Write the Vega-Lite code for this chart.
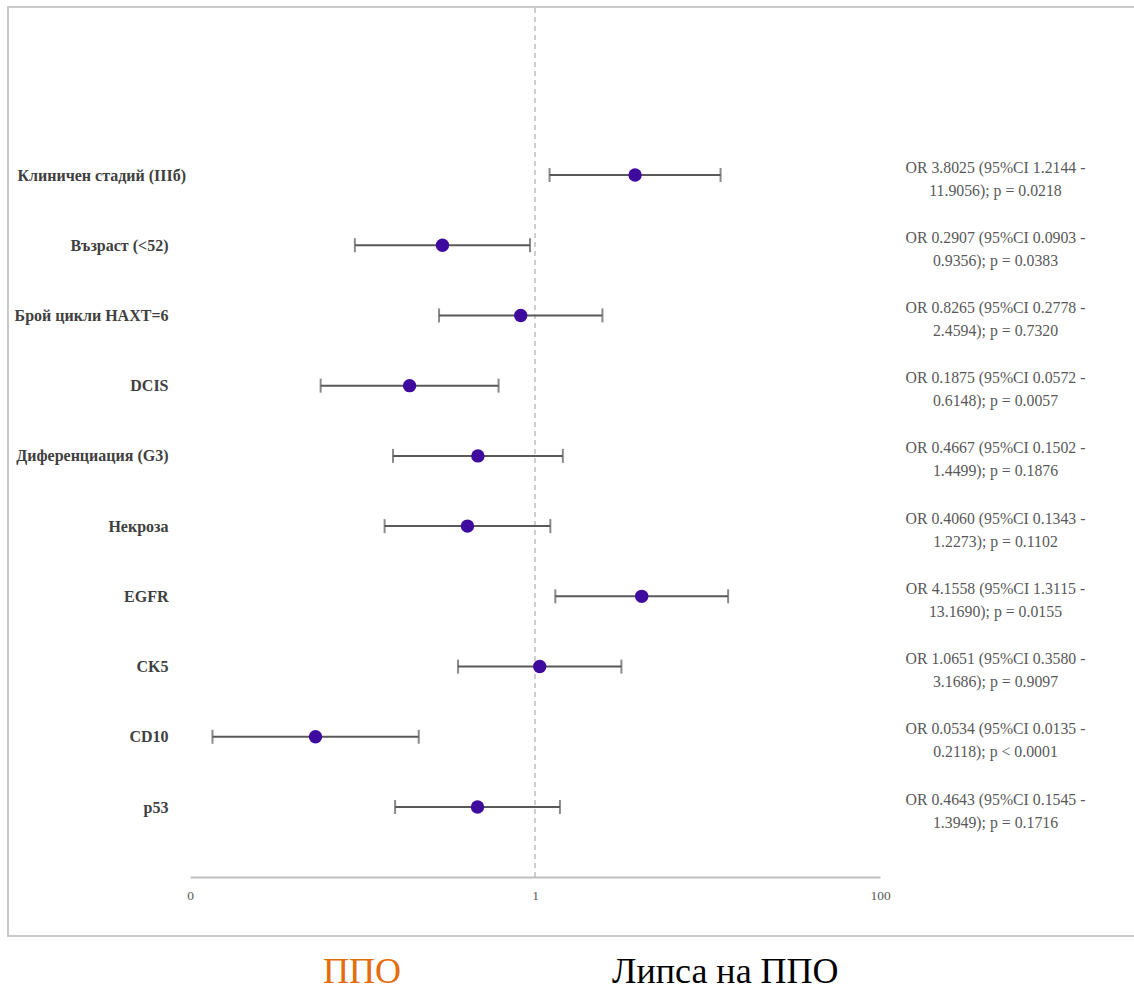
{
  "$schema": "https://vega.github.io/schema/vega-lite/v6.json",
  "width": 690,
  "height": 869,
  "autosize": {"type": "none"},
  "padding": {"left": 190, "top": 8, "right": 254, "bottom": 113},
  "background": "white",
  "config": {"view": {"stroke": null}, "font": "Liberation Serif"},
  "layer": [
    {
      "data": {"values": [{"frame": 1}]},
      "mark": {"type": "rect", "fill": null, "stroke": "#c9c9c9", "strokeWidth": 2},
      "encoding": {
        "x": {"datum": 0, "type": "quantitative", "scale": {"domain": [0, 1], "range": [-182, 950]}, "axis": null},
        "x2": {"datum": 1},
        "y": {"datum": 0, "type": "quantitative", "scale": {"domain": [0, 1], "range": [928, -1]}, "axis": null},
        "y2": {"datum": 1}
      }
    },
    {
      "data": {
        "values": [
          {"label": "Клиничен стадий (IIIб)", "or": 3.8025, "lo": 1.2144, "hi": 11.9056, "note1": "OR 3.8025 (95%CI 1.2144 -", "note2": "11.9056);  p = 0.0218"},
          {"label": "Възраст (<52)", "or": 0.2907, "lo": 0.0903, "hi": 0.9356, "note1": "OR 0.2907 (95%CI 0.0903 -", "note2": "0.9356);  p = 0.0383"},
          {"label": "Брой цикли НАХТ=6", "or": 0.8265, "lo": 0.2778, "hi": 2.4594, "note1": "OR 0.8265 (95%CI 0.2778 -", "note2": "2.4594);  p = 0.7320"},
          {"label": "DCIS", "or": 0.1875, "lo": 0.0572, "hi": 0.6148, "note1": "OR 0.1875 (95%CI 0.0572 -", "note2": "0.6148);  p = 0.0057"},
          {"label": "Диференциация (G3)", "or": 0.4667, "lo": 0.1502, "hi": 1.4499, "note1": "OR 0.4667 (95%CI 0.1502 -", "note2": "1.4499);  p = 0.1876"},
          {"label": "Некроза", "or": 0.4060, "lo": 0.1343, "hi": 1.2273, "note1": "OR 0.4060 (95%CI 0.1343 -", "note2": "1.2273);  p = 0.1102"},
          {"label": "EGFR", "or": 4.1558, "lo": 1.3115, "hi": 13.1690, "note1": "OR 4.1558 (95%CI 1.3115 -", "note2": "13.1690);  p = 0.0155"},
          {"label": "CK5", "or": 1.0651, "lo": 0.3580, "hi": 3.1686, "note1": "OR 1.0651 (95%CI 0.3580 -", "note2": "3.1686);  p = 0.9097"},
          {"label": "CD10", "or": 0.0534, "lo": 0.0135, "hi": 0.2118, "note1": "OR 0.0534 (95%CI 0.0135 -", "note2": "0.2118);  p < 0.0001"},
          {"label": "p53", "or": 0.4643, "lo": 0.1545, "hi": 1.3949, "note1": "OR 0.4643 (95%CI 0.1545 -", "note2": "1.3949);  p = 0.1716"}
        ]
      },
      "transform": [{"calculate": "datum.label + '|' + datum.note1 + '|' + datum.note2", "as": "key"}],
      "layer": [
        {
          "data": {"values": [{"ref": 1}]},
          "mark": {"type": "rule", "color": "#bfbfbf", "strokeWidth": 1.5, "strokeDash": [5, 4]},
          "encoding": {
            "x": {"datum": 1, "type": "quantitative", "scale": {"type": "log", "domain": [0.01, 100]}, "axis": null}
          }
        },
        {
          "mark": {"type": "rule", "color": "#595959", "strokeWidth": 2},
          "encoding": {
            "x": {
              "field": "lo", "type": "quantitative",
              "scale": {"type": "log", "domain": [0.01, 100]},
              "axis": {
                "orient": "bottom", "title": null, "values": [0.01, 1, 100],
                "labelExpr": "datum.value < 0.1 ? '0' : format(datum.value, 'd')",
                "ticks": false, "tickSize": 0, "grid": false,
                "domainColor": "#bfbfbf", "domainWidth": 2,
                "labelFont": "Liberation Serif", "labelFontSize": 13.5, "labelColor": "#595959",
                "labelPadding": 11, "labelFlush": false, "labelOverlap": false
              }
            },
            "x2": {"field": "hi"},
            "y": {
              "field": "key", "type": "nominal", "sort": null,
              "scale": {"type": "point", "padding": 0, "range": [167, 799]},
              "axis": {
                "orient": "left", "title": null,
                "labelExpr": "split(datum.value, '|')[0]",
                "ticks": false, "tickSize": 0, "domain": false, "grid": false,
                "labelFont": "Liberation Serif", "labelFontWeight": "bold", "labelFontSize": 16,
                "labelColor": "#404040", "labelLimit": 0,
                "labelAlign": {"condition": {"test": "indexof(datum.value, 'Клиничен') == 0", "value": "left"}, "value": "right"},
                "labelPadding": {"condition": {"test": "indexof(datum.value, 'Клиничен') == 0", "value": 173}, "value": 22}
              }
            }
          }
        },
        {
          "mark": {"type": "tick", "color": "#595959", "thickness": 2, "size": 14},
          "encoding": {
            "x": {"field": "lo", "type": "quantitative", "axis": null},
            "y": {"field": "key", "type": "nominal", "sort": null, "axis": null}
          }
        },
        {
          "mark": {"type": "tick", "color": "#595959", "thickness": 2, "size": 14},
          "encoding": {
            "x": {"field": "hi", "type": "quantitative", "axis": null},
            "y": {"field": "key", "type": "nominal", "sort": null, "axis": null}
          }
        },
        {
          "mark": {"type": "circle", "color": "#3f0b9f", "opacity": 1, "size": 180},
          "encoding": {
            "x": {
              "field": "or", "type": "quantitative",
              "axis": {
                "orient": "bottom", "title": null, "values": [0.0987, 12.6],
                "labelExpr": "datum.value < 1 ? 'ППО' : 'Липса на ППО'",
                "domain": false, "ticks": false, "tickSize": 0, "grid": false,
                "labelFont": "Liberation Serif", "labelFontSize": 36, "labelLimit": 0,
                "labelColor": {"condition": {"test": "datum.value < 1", "value": "#e46c0a"}, "value": "#000000"},
                "labelBaseline": "alphabetic", "labelPadding": 105,
                "labelFlush": false, "labelOverlap": false
              }
            },
            "y": {
              "field": "key", "type": "nominal", "sort": null,
              "axis": {
                "orient": "right", "title": null,
                "labelExpr": "[split(datum.value, '|')[1], split(datum.value, '|')[2]]",
                "ticks": false, "tickSize": 0, "domain": false, "grid": false,
                "labelFont": "Liberation Serif", "labelFontSize": 15.8, "labelColor": "#595959",
                "labelAlign": "center", "labelPadding": 115, "labelOffset": -8,
                "labelLineHeight": 23, "labelLimit": 0
              }
            }
          }
        }
      ],
      "resolve": {"axis": {"x": "independent", "y": "independent"}}
    }
  ],
  "resolve": {"scale": {"x": "independent", "y": "independent"}}
}
